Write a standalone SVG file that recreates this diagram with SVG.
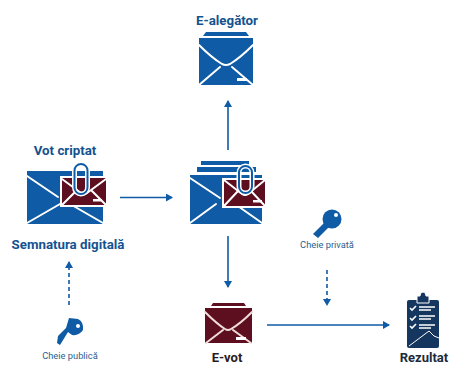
<svg xmlns="http://www.w3.org/2000/svg" width="449" height="366" viewBox="0 0 449 366">
<style>
text{font-family:Roboto,"Liberation Sans",sans-serif;text-anchor:middle}
.t{font-size:13.300px;font-weight:700;fill:#14528f}
.d{font-size:13px;font-weight:700;fill:#1c2b3a}
.s{font-size:9.300px;fill:#2a5f92}
.b{fill:#0f5ba5}.r{fill:#5d0f1f}.w{fill:none;stroke:#fff;stroke-width:2;stroke-linecap:round}
.c{fill:none;stroke:#fff;stroke-width:5}
.l{fill:none;stroke:#0f5ba5;stroke-width:1.600}
.dash{stroke-dasharray:4 3}
</style>
<defs>
<marker id="a" markerWidth="8" markerHeight="8" refX="6" refY="4" orient="auto" markerUnits="userSpaceOnUse"><path d="M0 0L7 4L0 8Z" fill="#0f5ba5"/></marker>
</defs>
<g id="connectors">
<path class="l" d="M120 197.500H172" marker-end="url(#a)"/>
<path class="l" d="M228 150V101" marker-end="url(#a)"/>
<path class="l" d="M228 236V287" marker-end="url(#a)"/>
<path class="l" d="M267 325H389" marker-end="url(#a)"/>
<path class="l dash" d="M69 305V262" marker-end="url(#a)"/>
<path class="l dash" d="M327 270V305" marker-end="url(#a)"/>
</g>
<g id="e-alegator">
<text class="t" x="227" y="25">E-alegător</text>
<path class="b" d="M206 32H246L249 36H203Z"/>
<path class="b" d="M199 38H253V85H199Z"/>
<path class="w" d="M199 45Q212 58 222 64Q226 66 230 64Q240 58 253 45M199 85L220 67M253 85L232 67"/>
<rect x="237" y="78" width="10" height="3" fill="#fff"/>
</g>
<g id="vot-criptat">
<text class="t" x="65" y="155">Vot criptat</text>
<text class="t" x="68" y="249">Semnatura digitală</text>
<path class="b" d="M27 171H103V224H27Z"/>
<path class="w" d="M27 176L58 197M27 223L60 204M103 223L70 204"/>
<path class="r" d="M61 177H107V206H61Z" stroke="#fff" stroke-width="2"/>
<path class="w" d="M62 179L81 193Q84 195 87 193L106 179M62 205L77 190M106 205L91 190"/>
<rect x="93" y="199" width="9" height="2.500" fill="#fff"/>
<rect x="74.500" y="164" width="13" height="30" rx="6.500" class="c"/>
<rect x="74.500" y="164" width="13" height="30" rx="6.500" fill="none" stroke="#0f5ba5" stroke-width="2"/>
</g>
<g id="central">
<path class="b" d="M201 161H249V165H201Z"/>
<path class="b" d="M197 167H256V172H197Z"/>
<path class="b" d="M190 175H262V224H190Z"/>
<path class="w" d="M190 178L220 198M190 223L216 204M262 223L235 204"/>
<path class="r" d="M223 179H266V207H223Z" stroke="#fff" stroke-width="2"/>
<path class="w" d="M224 180L242 194Q245 196 248 194L265 180M224 206L238 191M265 206L251 191"/>
<rect x="253" y="200" width="9" height="2.500" fill="#fff"/>
<rect x="239" y="166" width="13" height="27" rx="6.500" class="c"/>
<rect x="239" y="166" width="13" height="27" rx="6.500" fill="none" stroke="#0f5ba5" stroke-width="2"/>
</g>
<g id="e-vot">
<text class="d" x="227" y="362" style="fill:#2a1a20">E-vot</text>
<path class="r" d="M213 303H244L246 306H211Z"/>
<path class="r" d="M205 308H252V343H205Z"/>
<path class="w" d="M205 312Q217 324 225 329Q228 331 231 329Q240 324 252 312M206 343L223 330M251 343L233 330" style="stroke:#f0dcd8"/>
<rect x="236" y="337" width="10" height="3" fill="#fff"/>
</g>
<g id="rezultat">
<text class="d" x="424" y="362">Rezultat</text>
<rect x="407" y="300" width="32" height="48" rx="2" fill="#14365f"/>
<path d="M417 300V296H420Q420 292 423 292Q426 292 426 296H429V300V303H417Z" fill="#14365f" stroke="#fff" stroke-width="1"/>
<path d="M410 308L412 310L416 306M410 318L412 320L416 316M410 326L412 328L416 324" fill="none" stroke="#fff" stroke-width="1.600"/>
<path d="M419 307H435M419 310H431M419 316H435M419 319H431M419 325H435M419 328H431" stroke="#fff" stroke-width="1.500"/>
<path d="M409 346L429 331L434 336L439 338" fill="none" stroke="#fff" stroke-width="1"/>
</g>
<g id="cheie-privata">
<circle class="b" cx="332" cy="219" r="9.500"/>
<path class="b" d="M325 222L329 227L318 238L313 234Z"/>
<circle cx="336" cy="215" r="2" fill="#fff"/>
<text class="s" x="327" y="248">Cheie privată</text>
</g>
<g id="cheie-publica">
<path class="b" d="M69 318L78 319Q84 322 83 330Q79 336 72 335L68 332L60 345L57 343L58 336L66 328Z"/>
<circle cx="78" cy="326" r="2" fill="#fff"/>
<text class="s" x="70" y="359">Cheie publică</text>
</g>
</svg>
